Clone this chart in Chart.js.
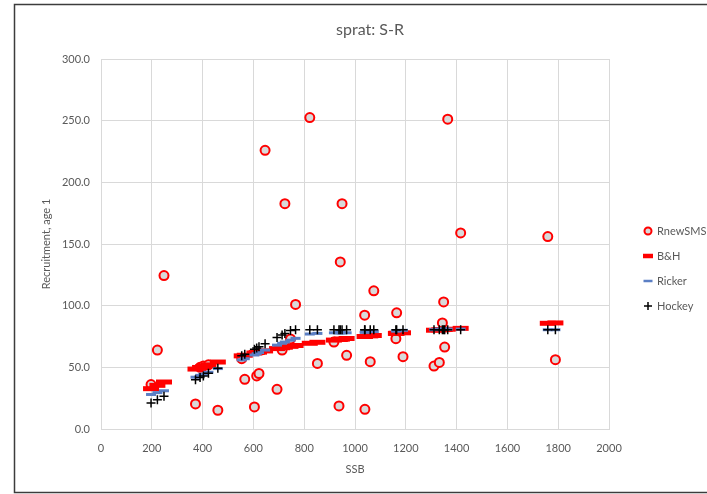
<!DOCTYPE html>
<html>
<head>
<meta charset="utf-8">
<script src="https://cdn.jsdelivr.net/npm/chart.js@4.4.1/dist/chart.umd.min.js"></script>
<style>
  html, body { margin: 0; padding: 0; background: #ffffff; }
  #wrap { width: 707px; height: 494px; }
</style>
</head>
<body>
<div id="wrap"><canvas id="c" width="707" height="494"></canvas></div>
<script>
// Sprat stock-recruitment: SSB per year, observed recruits and three fitted models
const ssb = [197, 222, 248, 372, 390, 403, 423, 460, 554, 566, 604, 613, 622, 646, 693, 713, 724, 746, 766, 822, 852,
             917, 937, 942, 949, 967, 1038, 1039, 1060, 1074, 1161, 1164, 1189, 1311, 1332, 1344, 1349, 1353, 1365, 1416, 1759, 1789];
const recruits = [36, 64, 124.4, 20.3, 50, 51, 52, 15.2, 57, 40.3, 17.9, 43, 45, 226, 32.2, 64, 182.7, 73, 101, 252.5, 53.2,
                  70.5, 18.7, 135.5, 182.7, 59.7, 92.3, 16, 54.6, 112, 73.2, 94.2, 58.6, 51, 54, 86, 103, 66.4, 251.2, 159, 156, 56.2];
const bhFit = [32.7, 35.4, 38.1, 48.6, 49.9, 50.7, 52.0, 54.3, 59.3, 59.8, 61.6, 62.0, 62.3, 63.3, 65.2, 65.9, 66.3, 67.0, 67.7, 69.5, 70.3,
               72.1, 72.6, 72.7, 72.9, 73.4, 75.0, 75.0, 75.5, 75.8, 77.5, 77.6, 78.0, 80.1, 80.4, 80.6, 80.7, 80.7, 80.9, 81.6, 85.7, 86.0];
const rickerFit = [28, 29.5, 31, 42, 43.5, 44.5, 46, 49, 56, 57, 60, 61, 62, 64, 68, 69.5, 70.5, 72, 73.5, 77, 77.5,
                   78, 78, 78, 78, 78, 78.5, 78.5, 79, 79, 79.5, 79.5, 80, 80.5, 81, 81, 81, 81, 81, 81, 80.5, 80.5];
const hockeyFit = [21, 23.8, 26.5, 40, 41.7, 43, 45.3, 49.2, 59.3, 60.6, 64.6, 65.6, 66.6, 69.1, 74.2, 76.3, 77.5, 79.8, 80.5, 80.5, 80.5,
                   80.5, 80.5, 80.5, 80.5, 80.5, 80.5, 80.5, 80.5, 80.5, 80.5, 80.5, 80.5, 80.5, 80.5, 80.5, 80.5, 80.5, 80.5, 80.5, 80.5, 80.5];
const seriesNames = ['RnewSMS', 'B&H', 'Ricker', 'Hockey'];
const chartTitle = 'sprat: S-R';
const xTitle = 'SSB';
const yTitle = 'Recruitment, age 1';

const TEXT = '#595959';
const GRID = '#d9d9d9';
const RED = '#ff0000';
const BLUE = '#5b7fc4';

const pts = ys => ssb.map((x, i) => ({ x: x, y: ys[i] }));

Chart.defaults.font.family = 'Lato, "Open Sans", sans-serif';
Chart.defaults.color = TEXT;

// Frame, title and legend drawn straight onto the canvas
const decor = {
  id: 'decor',
  beforeDraw(chart) {
    const ctx = chart.ctx;
    ctx.save();
    ctx.fillStyle = '#ffffff';
    ctx.fillRect(0, 0, chart.width, chart.height);
    ctx.restore();
  },
  afterDraw(chart) {
    const ctx = chart.ctx;
    ctx.save();
    // outer frame
    ctx.strokeStyle = '#3c3c3c';
    ctx.lineWidth = 1.5;
    ctx.strokeRect(14.5, 4.5, 720, 488);
    // title
    ctx.fillStyle = TEXT;
    ctx.font = '16px Lato, "Open Sans", sans-serif';
    ctx.textAlign = 'center';
    ctx.textBaseline = 'middle';
    ctx.fillText(chartTitle, 370, 30);
    // legend
    const lx = 648, tx = 657;
    const ly = [231, 256, 281, 306];
    ctx.font = '11px Lato, "Open Sans", sans-serif';
    ctx.textAlign = 'left';
    seriesNames.forEach((name, i) => {
      const y = ly[i];
      ctx.beginPath();
      if (i === 0) {
        ctx.arc(lx, y, 3.5, 0, Math.PI * 2);
        ctx.fillStyle = '#d9d9d9';
        ctx.fill();
        ctx.strokeStyle = RED;
        ctx.lineWidth = 2;
        ctx.stroke();
      } else if (i === 1) {
        ctx.moveTo(lx - 5, y); ctx.lineTo(lx + 5, y);
        ctx.strokeStyle = RED; ctx.lineWidth = 4.5; ctx.stroke();
      } else if (i === 2) {
        ctx.moveTo(lx - 4.5, y); ctx.lineTo(lx + 4.5, y);
        ctx.strokeStyle = BLUE; ctx.lineWidth = 2.5; ctx.stroke();
      } else {
        ctx.moveTo(lx - 4, y); ctx.lineTo(lx + 4, y);
        ctx.moveTo(lx, y - 4); ctx.lineTo(lx, y + 4);
        ctx.strokeStyle = '#000000'; ctx.lineWidth = 1.5; ctx.stroke();
      }
      ctx.fillStyle = TEXT;
      ctx.fillText(name, tx, y);
    });
    ctx.restore();
  }
};

new Chart(document.getElementById('c'), {
  type: 'scatter',
  data: {
    datasets: [
      { label: seriesNames[0], data: pts(recruits), order: 4,
        pointStyle: 'circle', pointRadius: 4.5, pointBorderWidth: 2,
        pointBackgroundColor: '#d9d9d9', pointBorderColor: RED },
      { label: seriesNames[1], data: pts(bhFit), order: 3,
        pointStyle: 'line', pointRadius: 8, pointBorderWidth: 5,
        pointBorderColor: RED, pointBackgroundColor: RED },
      { label: seriesNames[2], data: pts(rickerFit), order: 2,
        pointStyle: 'line', pointRadius: 5, pointBorderWidth: 3,
        pointBorderColor: BLUE, pointBackgroundColor: BLUE },
      { label: seriesNames[3], data: pts(hockeyFit), order: 1,
        pointStyle: 'cross', pointRadius: 4.5, pointBorderWidth: 1.5,
        pointBorderColor: '#000000', pointBackgroundColor: '#000000' }
    ]
  },
  options: {
    responsive: false,
    animation: false,
    events: [],
    layout: { padding: { left: 36, right: 98, top: 59, bottom: 14 } },
    plugins: {
      legend: { display: false },
      title: { display: false },
      tooltip: { enabled: false }
    },
    scales: {
      x: {
        type: 'linear', min: 0, max: 2000,
        afterFit: s => { s.height = 51; },
        ticks: { stepSize: 200, padding: 13, color: TEXT, font: { size: 11 }, maxRotation: 0,
                 callback: v => String(v) },
        grid: { color: GRID, lineWidth: 1, drawTicks: false },
        border: { color: GRID },
        title: { display: true, text: xTitle, color: TEXT, font: { size: 11 } }
      },
      y: {
        type: 'linear', min: 0, max: 300,
        afterFit: s => { s.width = 65; },
        ticks: { stepSize: 50, padding: 11, color: TEXT, font: { size: 11 },
                 callback: v => Number(v).toFixed(1) },
        grid: { color: GRID, lineWidth: 1, drawTicks: false },
        border: { color: GRID },
        title: { display: true, text: yTitle, color: TEXT, font: { size: 11 } }
      }
    }
  },
  plugins: [decor]
});
</script>
</body>
</html>
